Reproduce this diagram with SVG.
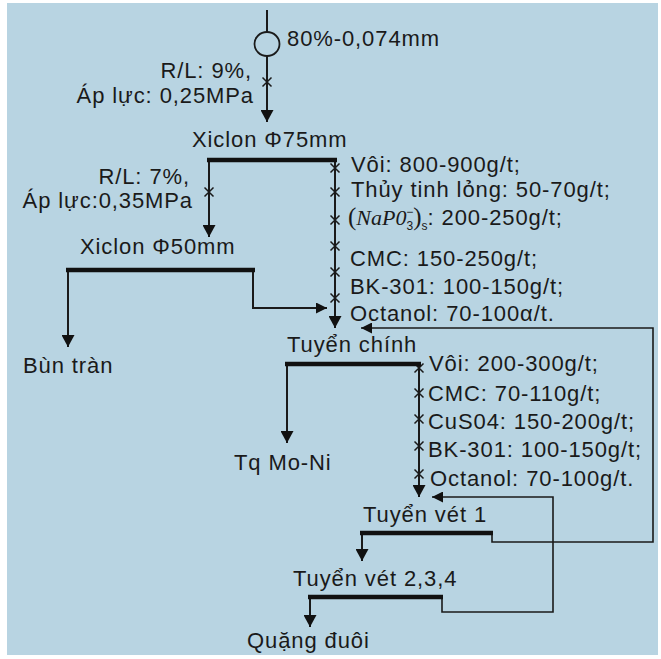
<svg xmlns="http://www.w3.org/2000/svg" width="661" height="659" viewBox="0 0 661 659">
<style>
text{font-family:"Liberation Sans",Arial,sans-serif;font-size:22px;fill:#1a1a1a;letter-spacing:0.9px}
.ln{fill:none;stroke:#1a1a1a;stroke-width:2}
.fb{fill:none;stroke:#1a1a1a;stroke-width:1.6}
.bar{fill:none;stroke:#111;stroke-width:4.5}
.x{fill:none;stroke:#1a1a1a;stroke-width:1.5}
.it{font-family:"Liberation Serif","Times New Roman",serif;font-style:italic;letter-spacing:0}
.par{font-family:"Liberation Serif","Times New Roman",serif;font-size:25px;letter-spacing:0}
.sm{font-size:12px;letter-spacing:0}
</style>
<defs>
<marker id="ah" viewBox="0 0 12 13" refX="12" refY="6.5" markerWidth="12" markerHeight="13" orient="auto" markerUnits="userSpaceOnUse"><path d="M0,0 L12,6.5 L0,13 Z" fill="#111"/></marker>
<marker id="ahs" viewBox="0 0 11 11" refX="11" refY="5.5" markerWidth="11" markerHeight="11" orient="auto" markerUnits="userSpaceOnUse"><path d="M0,0 L11,5.5 L0,11 Z" fill="#111"/></marker>
<path id="xm" class="x" d="M-4.5,-4.5 L4.5,4.5 M-4.5,4.5 L4.5,-4.5"/>
</defs>
<rect x="0" y="0" width="661" height="659" fill="#ffffff"/>
<rect x="7" y="3" width="651" height="652" fill="#b8d4e2"/>

<g id="connectors">
  <line class="ln" x1="267" y1="10" x2="267" y2="32"/>
  <line class="ln" x1="267" y1="56" x2="267" y2="122" marker-end="url(#ah)"/>
  <use href="#xm" x="267" y="82"/>
  <line class="ln" x1="209" y1="160" x2="209" y2="237" marker-end="url(#ah)"/>
  <use href="#xm" x="209" y="192"/>
  <line class="ln" x1="335" y1="160" x2="335" y2="328" marker-end="url(#ah)"/>
  <use href="#xm" x="335" y="168"/>
  <use href="#xm" x="335" y="192"/>
  <use href="#xm" x="335" y="220"/>
  <use href="#xm" x="335" y="246"/>
  <use href="#xm" x="335" y="272"/>
  <use href="#xm" x="335" y="298"/>
  <line class="ln" x1="68" y1="270" x2="68" y2="347" marker-end="url(#ah)"/>
  <polyline class="ln" points="253,270 253,308 327,308" marker-end="url(#ahs)"/>
  <polyline class="fb" points="492,533 492,542 653,542 653,328 361,328" marker-end="url(#ahs)"/>
  <line class="ln" x1="287" y1="364" x2="287" y2="443" marker-end="url(#ah)"/>
  <line class="ln" x1="419" y1="364" x2="419" y2="497" marker-end="url(#ah)"/>
  <use href="#xm" x="419" y="368"/>
  <use href="#xm" x="419" y="393"/>
  <use href="#xm" x="419" y="419"/>
  <use href="#xm" x="419" y="446"/>
  <use href="#xm" x="419" y="474"/>
  <polyline class="fb" points="442,597 442,612 553,612 553,497 432,497" marker-end="url(#ahs)"/>
  <line class="ln" x1="362" y1="533" x2="362" y2="561" marker-end="url(#ah)"/>
  <line class="ln" x1="310" y1="597" x2="310" y2="627" marker-end="url(#ah)"/>
</g>

<g id="feed">
  <ellipse cx="267" cy="44" rx="12.5" ry="12" fill="none" stroke="#1a1a1a" stroke-width="1.8"/>
  <text x="287" y="46">80%-0,074mm</text>
</g>
<g id="feed-params">
  <text x="252" y="78" text-anchor="end">R/L: 9%,</text>
  <text x="254" y="103" text-anchor="end">Áp lực: 0,25MPa</text>
</g>
<g id="xiclon75">
  <text x="192" y="147">Xiclon Φ75mm</text>
  <line class="bar" x1="207" y1="160" x2="337" y2="160"/>
</g>
<g id="xiclon75-params">
  <text x="190" y="184" text-anchor="end">R/L: 7%,</text>
  <text x="193" y="208" text-anchor="end">Áp lực:0,35MPa</text>
</g>
<g id="reagents-main">
  <text x="351" y="172">Vôi: 800-900g/t;</text>
  <text x="351" y="197">Thủy tinh lỏng: 50-70g/t;</text>
  <text x="348" y="225"><tspan class="par">(</tspan><tspan class="it">NaP0</tspan><tspan class="sm" dy="5">3</tspan><tspan class="sm" dx="-7" dy="-14">−</tspan><tspan class="par" dy="9">)</tspan><tspan class="sm" dy="5">s</tspan><tspan dy="-5">: 200-250g/t;</tspan></text>
  <text x="350" y="266">CMC: 150-250g/t;</text>
  <text x="350" y="294">BK-301: 100-150g/t;</text>
  <text x="350" y="321">Octanol: 70-100α/t.</text>
</g>
<g id="xiclon50">
  <text x="80" y="254">Xiclon Φ50mm</text>
  <line class="bar" x1="66" y1="270" x2="255" y2="270"/>
</g>
<g id="bun-tran">
  <text x="23" y="373">Bùn tràn</text>
</g>
<g id="tuyen-chinh">
  <text x="287" y="352">Tuyển chính</text>
  <line class="bar" x1="285" y1="364" x2="421" y2="364"/>
</g>
<g id="reagents-chinh">
  <text x="429" y="371">Vôi: 200-300g/t;</text>
  <text x="428" y="401">CMC: 70-110g/t;</text>
  <text x="428" y="429">CuS04: 150-200g/t;</text>
  <text x="428" y="457">BK-301: 100-150g/t;</text>
  <text x="430" y="486">Octanol: 70-100g/t.</text>
</g>
<g id="tq-mo-ni">
  <text x="234" y="470">Tq Mo-Ni</text>
</g>
<g id="tuyen-vet-1">
  <text x="363" y="522">Tuyển vét 1</text>
  <line class="bar" x1="360" y1="533" x2="493" y2="533"/>
</g>
<g id="tuyen-vet-234">
  <text x="293" y="586">Tuyển vét 2,3,4</text>
  <line class="bar" x1="308" y1="597" x2="443" y2="597"/>
</g>
<g id="quang-duoi">
  <text x="247" y="648">Quặng đuôi</text>
</g>
</svg>
